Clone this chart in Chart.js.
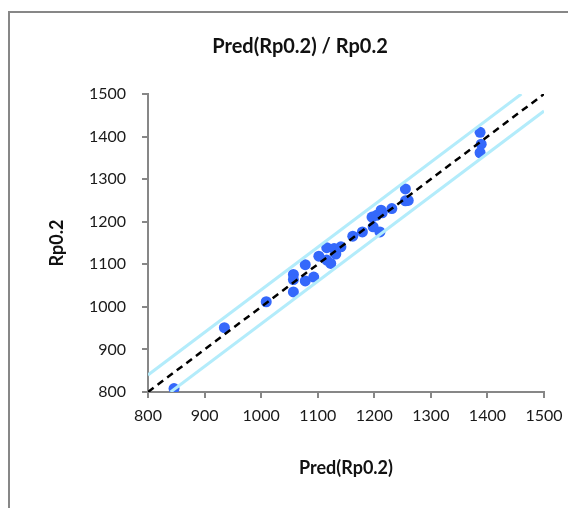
<!DOCTYPE html>
<html>
<head>
<meta charset="utf-8">
<script src="https://cdn.jsdelivr.net/npm/chart.js@4"></script>
<style>
  html, body { margin: 0; padding: 0; background: #fff; overflow: hidden; }
  #wrap { position: relative; width: 568px; height: 508px; }
  #frame { position: absolute; left: 8px; top: 11px; width: 600px; height: 540px; border: 2px solid #878787; }
  canvas { position: absolute; left: 0; top: 0; }
</style>
</head>
<body>
<div id="wrap">
  <div id="frame"></div>
  <canvas id="chart" width="568" height="508"></canvas>
</div>
<script>
// predicted vs measured Rp0.2
const predRp = [846, 935, 1009, 1057, 1057, 1057, 1078, 1078, 1093, 1102, 1116, 1116, 1123, 1129, 1132, 1141,
    1162, 1179, 1196, 1198, 1204, 1210, 1212, 1214, 1231, 1255, 1255, 1260, 1387, 1389, 1387];
const measRp = [808, 951, 1012, 1035, 1076, 1064, 1099, 1061, 1070, 1119, 1139, 1110, 1102, 1137, 1124, 1141,
    1166, 1176, 1211, 1188, 1215, 1176, 1227, 1221, 1231, 1277, 1249, 1250, 1410, 1382, 1362];

// reference lines: y = x and +/- 40 band
const diagX = [800, 1500];
const diagY = [800, 1500];
const upperX = [800, 1460];
const upperY = [840, 1500];
const lowerX = [840, 1500];
const lowerY = [800, 1460];

const axisMin = 800;
const axisMax = 1500;
const axisStep = 100;

const toPts = (xs, ys) => xs.map((x, i) => ({ x: x, y: ys[i] }));

const FONT = 'Lato, "Open Sans", sans-serif';

const titlePlugin = {
    id: 'chartTitle',
    afterDraw(chart) {
        const ctx = chart.ctx;
        ctx.save();
        ctx.font = 'bold 20px ' + FONT;
        ctx.fillStyle = '#111';
        ctx.textAlign = 'center';
        ctx.textBaseline = 'middle';
        ctx.fillText('Pred(Rp0.2) / Rp0.2', 300, 47);
        ctx.restore();
    }
};

const lineStyle = { showLine: true, pointRadius: 0, pointHoverRadius: 0, fill: false };

new Chart(document.getElementById('chart').getContext('2d'), {
    type: 'scatter',
    data: {
        datasets: [
            { ...lineStyle, label: 'y=x', data: toPts(diagX, diagY), borderColor: '#000', borderWidth: 2.5, borderDash: [7, 5] },
            { ...lineStyle, label: 'upper', data: toPts(upperX, upperY), borderColor: '#b3ecfb', borderWidth: 3 },
            { ...lineStyle, label: 'lower', data: toPts(lowerX, lowerY), borderColor: '#b3ecfb', borderWidth: 3 },
            {
                label: 'Rp0.2',
                data: toPts(predRp, measRp),
                backgroundColor: '#3468fb',
                borderColor: '#3468fb',
                pointRadius: 5.5,
                borderWidth: 0
            }
        ]
    },
    options: {
        responsive: false,
        animation: false,
        layout: { padding: { top: 94, right: 24, left: 0, bottom: 0 } },
        plugins: { legend: { display: false }, tooltip: { enabled: false }, title: { display: false } },
        scales: {
            x: {
                type: 'linear',
                min: axisMin, max: axisMax,
                afterFit: s => { s.height = 116; s.paddingRight = 0; s.paddingLeft = 0; },
                ticks: { stepSize: axisStep, padding: 8, color: '#1a1a1a', font: { family: FONT, size: 16 }, maxRotation: 0,
                    callback: v => String(v) },
                grid: { drawOnChartArea: false, drawTicks: true, tickLength: 6, color: '#878787', lineWidth: 2 },
                border: { display: true, color: '#878787', width: 2 },
                title: { display: true, text: 'Pred(Rp0.2)', color: '#111', font: { family: FONT, size: 18, weight: 'bold' }, padding: { top: 0, bottom: 29 } }
            },
            y: {
                type: 'linear',
                min: axisMin, max: axisMax,
                afterFit: s => { s.width = 148; s.paddingTop = 0; s.paddingBottom = 0; },
                ticks: { stepSize: axisStep, padding: 16, color: '#1a1a1a', font: { family: FONT, size: 16 },
                    callback: v => String(v) },
                grid: { drawOnChartArea: false, drawTicks: true, tickLength: 6, color: '#878787', lineWidth: 2 },
                border: { display: true, color: '#878787', width: 2 },
                title: { display: true, text: 'Rp0.2', color: '#111', font: { family: FONT, size: 18, weight: 'bold' }, padding: { top: 46, bottom: 0 } }
            }
        }
    },
    plugins: [titlePlugin]
});
</script>
</body>
</html>
